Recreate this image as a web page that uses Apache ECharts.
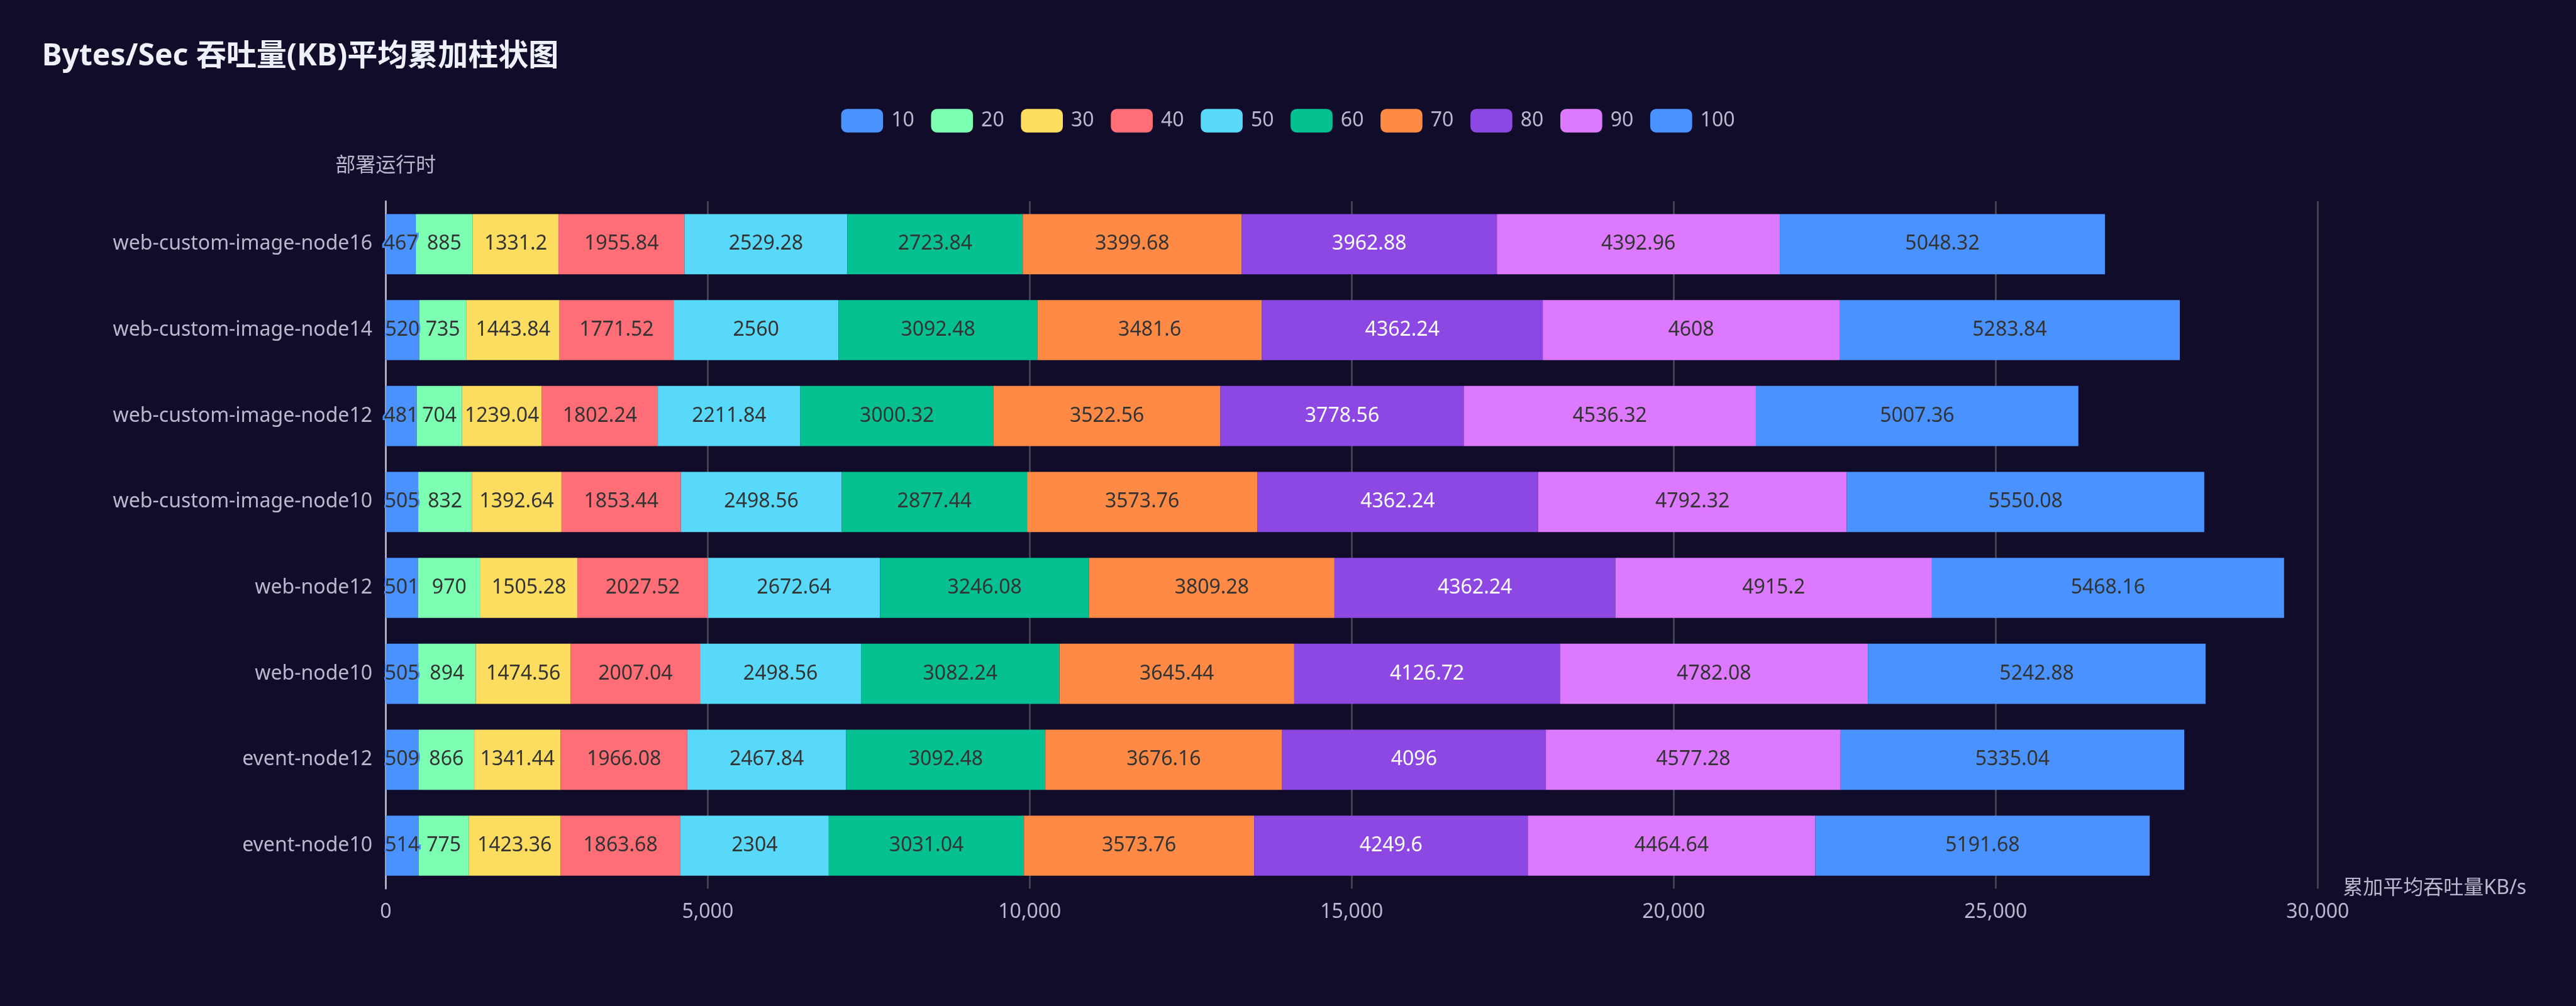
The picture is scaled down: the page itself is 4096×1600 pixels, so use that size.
<!DOCTYPE html>
<html>
<head>
<meta charset="utf-8">
<script src="https://cdn.jsdelivr.net/npm/echarts@6/dist/echarts.min.js"></script>
<style>
html,body{margin:0;padding:0;background:#100C2A;}
#main{width:4096px;height:1600px;}
</style>
</head>
<body>
<div id="main"></div>
<script>
var categories = ['event-node10','event-node12','web-node10','web-node12','web-custom-image-node10','web-custom-image-node12','web-custom-image-node14','web-custom-image-node16'];
var seriesNames = ['10','20','30','40','50','60','70','80','90','100'];
var xTickMax = 30000;
var xTickInterval = 5000;

// values per category in series order 10..100 (bottom row first)
var eventNode10 = [514, 775, 1423.36, 1863.68, 2304, 3031.04, 3573.76, 4249.6, 4464.64, 5191.68];
var eventNode12 = [509, 866, 1341.44, 1966.08, 2467.84, 3092.48, 3676.16, 4096, 4577.28, 5335.04];
var webNode10 = [505, 894, 1474.56, 2007.04, 2498.56, 3082.24, 3645.44, 4126.72, 4782.08, 5242.88];
var webNode12 = [501, 970, 1505.28, 2027.52, 2672.64, 3246.08, 3809.28, 4362.24, 4915.2, 5468.16];
var webCustomNode10 = [505, 832, 1392.64, 1853.44, 2498.56, 2877.44, 3573.76, 4362.24, 4792.32, 5550.08];
var webCustomNode12 = [481, 704, 1239.04, 1802.24, 2211.84, 3000.32, 3522.56, 3778.56, 4536.32, 5007.36];
var webCustomNode14 = [520, 735, 1443.84, 1771.52, 2560, 3092.48, 3481.6, 4362.24, 4608, 5283.84];
var webCustomNode16 = [467, 885, 1331.2, 1955.84, 2529.28, 2723.84, 3399.68, 3962.88, 4392.96, 5048.32];
var rows = [eventNode10, eventNode12, webNode10, webNode12, webCustomNode10, webCustomNode12, webCustomNode14, webCustomNode16];

var colors = ['#4992ff','#7cffb2','#fddd60','#ff6e76','#58d9f9','#05c091','#ff8a45','#8d48e3','#dd79ff','#4992ff'];
var labelColors = ['#333','#333','#333','#333','#333','#333','#333','#fff','#333','#333'];

var s = 4096/1536;
var font = '"Noto Sans", "Noto Sans CJK SC", sans-serif';
var txt = '#B9B8CE';

var series = seriesNames.map(function(name, i){
  return {
    name: name,
    type: 'bar',
    stack: 'total',
    barCategoryGap: '30%',
    itemStyle: {color: colors[i]},
    label: {
      show: true,
      position: 'inside',
      color: labelColors[i],
      fontSize: 12*s,
      fontFamily: font,
      textBorderColor: colors[i],
      textBorderWidth: 2*s
    },
    data: rows.map(function(r){ return r[i]; })
  };
});

var chart = echarts.init(document.getElementById('main'), null, {renderer:'canvas'});
chart.setOption({
  backgroundColor: '#100C2A',
  color: colors,
  animation: false,
  title: {
    text: 'Bytes/Sec 吞吐量(KB)平均累加柱状图',
    left: 20*s,
    top: 20*s,
    padding: 5*s,
    textStyle: {color:'#EEF1FA', fontSize: 18*s, fontWeight:'bold', fontFamily: font}
  },
  legend: {
    data: seriesNames,
    top: 60*s,
    padding: 5*s,
    icon: 'roundRect',
    itemWidth: 25*s,
    itemHeight: 14*s,
    itemGap: 10*s,
    textStyle: {color: txt, fontSize: 12*s, fontFamily: font, padding:[0,0,0,3*s]}
  },
  grid: {left: 230*s, right: 154*s, top: 120*s, bottom: 70*s},
  xAxis: {
    type: 'value',
    min: 0,
    max: xTickMax,
    interval: xTickInterval,
    name: '累加平均吞吐量KB/s',
    nameGap: 15*s,
    nameTextStyle: {color: txt, fontSize: 12*s, fontFamily: font},
    axisLabel: {color: txt, fontSize: 12*s, fontFamily: font, margin: 8*s},
    splitLine: {lineStyle: {color: '#484753', width: s}},
    axisLine: {show:false}
  },
  yAxis: {
    type: 'category',
    data: categories,
    name: '部署运行时',
    nameGap: 15*s,
    nameTextStyle: {color: txt, fontSize: 12*s, fontFamily: font},
    axisLine: {lineStyle: {color: txt, width: s}},
    axisTick: {length: 5*s, lineStyle: {color: txt, width: s}},
    axisLabel: {color: txt, fontSize: 12*s, fontFamily: font, margin: 8*s}
  },
  series: series
});
</script>
</body>
</html>
